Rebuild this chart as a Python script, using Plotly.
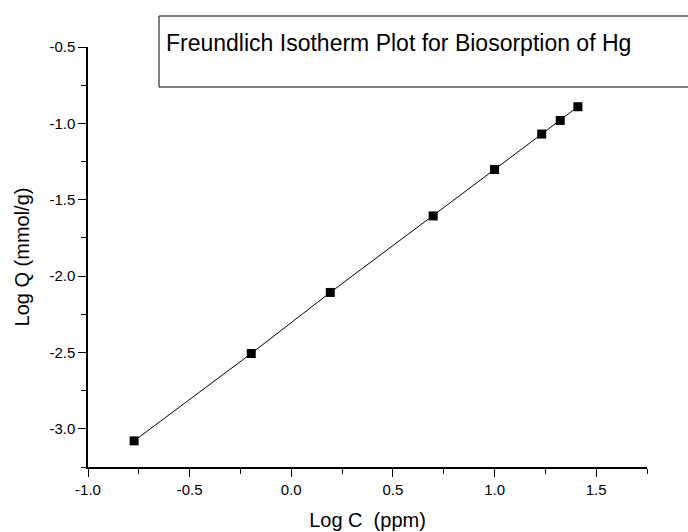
import plotly.graph_objects as go

log_c = [-0.773, -0.197, 0.192, 0.698, 1.000, 1.232, 1.323, 1.410]
log_q = [-3.079, -2.507, -2.107, -1.606, -1.302, -1.070, -0.981, -0.891]

x_tickvals = [-1.0, -0.5, 0.0, 0.5, 1.0, 1.5]
x_ticktext = ["-1.0", "-0.5", "0.0", "0.5", "1.0", "1.5"]
y_tickvals = [-3.0, -2.5, -2.0, -1.5, -1.0, -0.5]
y_ticktext = ["-3.0", "-2.5", "-2.0", "-1.5", "-1.0", "-0.5"]

title_text = "Freundlich Isotherm Plot for Biosorption of Hg"
x_title = "Log C  (ppm)"
y_title = "Log Q (mmol/g)"

FONT = "Liberation Sans, Arial, sans-serif"

fig = go.Figure()
fig.add_trace(go.Scatter(
    x=log_c, y=log_q, mode="lines+markers",
    line=dict(color="black", width=1),
    marker=dict(symbol="square", size=9, color="black"),
    showlegend=False,
))

axis_common = dict(
    showgrid=False, zeroline=False, showline=True, linecolor="black", linewidth=1.5,
    ticks="outside", ticklen=8, tickwidth=1.2, tickcolor="black",
    tickfont=dict(family=FONT, size=15, color="black"),
    minor=dict(ticks="outside", ticklen=5, tickwidth=1.2, tickcolor="black", dtick=0.25, showgrid=False),
    mirror=False, tickmode="array", automargin=False,
)

fig.update_xaxes(range=[-1.0, 1.75], tickvals=x_tickvals, ticktext=x_ticktext,
                 title=dict(text=x_title, font=dict(family=FONT, size=20, color="black"), standoff=16),
                 **axis_common)
fig.update_yaxes(range=[-3.25, -0.5], tickvals=y_tickvals, ticktext=y_ticktext,
                 title=dict(text=y_title, font=dict(family=FONT, size=20, color="black"), standoff=14),
                 **axis_common)
fig.update_xaxes(minor=dict(tick0=-1.0))
fig.update_yaxes(minor=dict(tick0=-3.0))

# Title box
fig.add_shape(type="rect", xref="paper", yref="paper",
              x0=(159 - 88) / 559, x1=(690 - 88) / 559,
              y0=(467 - 87) / 420, y1=(467 - 16) / 420,
              line=dict(color="black", width=1), fillcolor="white", layer="above")
fig.add_annotation(xref="paper", yref="paper", x=(164 - 88) / 559, y=(467 - 43) / 420,
                   xanchor="left", yanchor="middle", showarrow=False,
                   text=title_text, font=dict(family=FONT, size=23, color="black"))

fig.update_layout(
    width=688, height=532,
    margin=dict(l=88, r=41, t=47, b=65),
    paper_bgcolor="white", plot_bgcolor="white",
    font=dict(family=FONT, color="black"),
)

fig.write_html("out.html")
